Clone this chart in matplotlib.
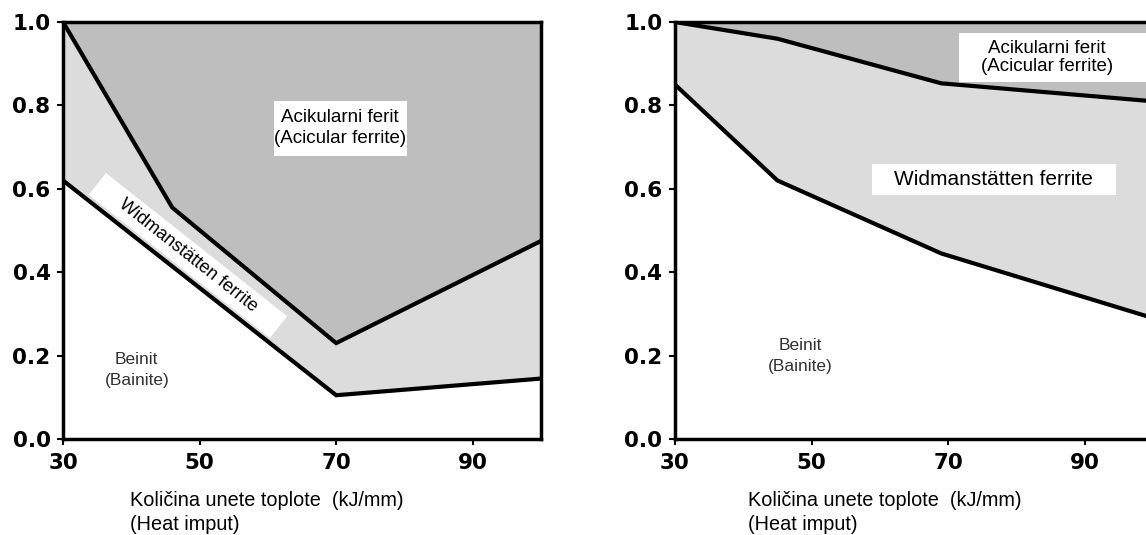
import numpy as np
import matplotlib
matplotlib.use("Agg")
import matplotlib.pyplot as plt
from matplotlib.path import Path

# left panel: phase boundaries (fraction vs heat input)
heat_left_low = [30, 70, 100]
bainite_left = [0.62, 0.105, 0.145]
heat_left_up = [30, 46, 70, 100]
acicular_left = [1.0, 0.555, 0.23, 0.475]

# right panel
heat_right = [30, 45, 69, 100]
bainite_right = [0.85, 0.62, 0.445, 0.29]
acicular_right = [1.0, 0.96, 0.853, 0.81]

xticks = [30, 50, 70, 90]
yticks = [0.0, 0.2, 0.4, 0.6, 0.8, 1.0]
xlabel = "Količina unete toplote  (kJ/mm)\n(Heat imput)"

dark = "#bebebe"
light = "#dcdcdc"
txtfont = ["Liberation Sans", "DejaVu Sans"]


def pad_box(left, right, bottom, top):
    # white label box with separate padding on each side (in font-size units)
    def box(x0, y0, width, height, mutation_size):
        a = x0 - left * mutation_size
        b = x0 + width + right * mutation_size
        c = y0 - bottom * mutation_size
        d = y0 + height + top * mutation_size
        return Path([(a, c), (b, c), (b, d), (a, d), (a, c)], closed=True)
    return box


fig = plt.figure(figsize=(11.46, 5.35), dpi=100)
ax1 = fig.add_axes([0.055, 0.1794, 0.4171, 0.7794])
ax2 = fig.add_axes([0.589, 0.1794, 0.4171, 0.7794])


def style(ax, labx):
    ax.set_xlim(30, 100)
    ax.set_ylim(0, 1.0)
    ax.set_xticks(xticks)
    ax.set_yticks(yticks)
    ax.set_yticklabels(["%.1f" % v for v in yticks])
    for s in ax.spines.values():
        s.set_linewidth(2.5)
    ax.tick_params(direction="out", length=4, width=1.5)
    ax.tick_params(axis="x", pad=6)
    ax.tick_params(axis="y", pad=5)
    for lab in ax.get_xticklabels() + ax.get_yticklabels():
        lab.set_fontweight("bold")
        lab.set_fontsize(15.5)
        lab.set_family("DejaVu Sans")
    ax.text(labx, -0.125, xlabel, transform=ax.transAxes, ha="left", va="top",
            fontsize=14.3, family=txtfont, linespacing=1.35)


# left
ax1.fill_between(heat_left_low, bainite_left, 1.0, color=light, lw=0)
ax1.fill_between(heat_left_up, acicular_left, 1.0, color=dark, lw=0)
ax1.plot(heat_left_low, bainite_left, color="black", lw=3, solid_joinstyle="miter")
ax1.plot(heat_left_up, acicular_left, color="black", lw=3, solid_joinstyle="miter")
style(ax1, 0.14)
ax1.text(70.6, 0.745, "Acikularni ferit\n(Acicular ferrite)", ha="center", va="center",
         fontsize=13.5, family=txtfont, linespacing=1.3,
         bbox=dict(boxstyle=pad_box(0.02, 0.02, 0.45, 0.45), fc="white", ec="none"))
ax1.text(48.3, 0.44, "Widmanstätten ferrite", ha="center", va="center",
         rotation=-38.3, rotation_mode="anchor", fontsize=13, family=txtfont,
         bbox=dict(boxstyle=pad_box(1.65, 1.65, 0.3, 0.3), fc="white", ec="none"))
ax1.text(40.8, 0.165, "Beinit\n(Bainite)", ha="center", va="center",
         fontsize=12.5, family=txtfont, color="#333333", linespacing=1.5)

# right
ax2.fill_between(heat_right, bainite_right, 1.0, color=light, lw=0)
ax2.fill_between(heat_right, acicular_right, 1.0, color=dark, lw=0)
ax2.plot(heat_right, bainite_right, color="black", lw=3, solid_joinstyle="miter")
ax2.plot(heat_right, acicular_right, color="black", lw=3, solid_joinstyle="miter")
style(ax2, 0.152)
ax2.spines["right"].set_visible(False)
ax2.text(84.5, 0.915, "Acikularni ferit\n(Acicular ferrite)", ha="center", va="center",
         fontsize=13.5, family=txtfont, linespacing=1.15,
         bbox=dict(boxstyle=pad_box(1.2, 2.0, 0.35, 0.35), fc="white", ec="none"))
ax2.text(76.7, 0.623, "Widmanstätten ferrite", ha="center", va="center",
         fontsize=15, family=txtfont,
         bbox=dict(boxstyle=pad_box(1.1, 1.1, 0.28, 0.28), fc="white", ec="none"))
ax2.text(48.4, 0.199, "Beinit\n(Bainite)", ha="center", va="center",
         fontsize=12.5, family=txtfont, color="#333333", linespacing=1.5)

fig.savefig("out.png", dpi=100)
